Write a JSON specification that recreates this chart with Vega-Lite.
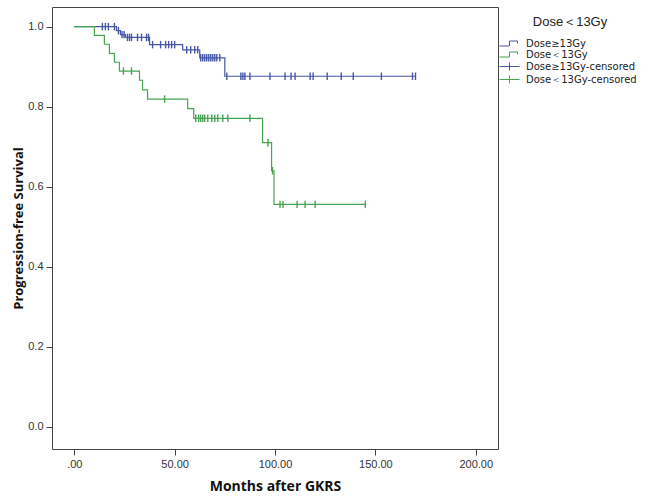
{
  "$schema": "https://vega.github.io/schema/vega-lite/v6.json",
  "autosize": {"type": "none"},
  "padding": {"left": 52, "top": 7, "right": 152, "bottom": 51},
  "width": 446,
  "height": 442,
  "background": "white",
  "datasets": {
    "steps": [
      {"series": "Dose≥13Gy", "month": 0, "surv": 1.0},
      {"series": "Dose≥13Gy", "month": 21, "surv": 0.99},
      {"series": "Dose≥13Gy", "month": 23, "surv": 0.98},
      {"series": "Dose≥13Gy", "month": 25.5, "surv": 0.973},
      {"series": "Dose≥13Gy", "month": 37.5, "surv": 0.955},
      {"series": "Dose≥13Gy", "month": 54, "surv": 0.942},
      {"series": "Dose≥13Gy", "month": 62.5, "surv": 0.922},
      {"series": "Dose≥13Gy", "month": 75, "surv": 0.876},
      {"series": "Dose≥13Gy", "month": 170, "surv": 0.876},
      {"series": "Dose＜13Gy", "month": 0, "surv": 1.0},
      {"series": "Dose＜13Gy", "month": 10, "surv": 0.978},
      {"series": "Dose＜13Gy", "month": 15, "surv": 0.956},
      {"series": "Dose＜13Gy", "month": 17.5, "surv": 0.933},
      {"series": "Dose＜13Gy", "month": 20, "surv": 0.911},
      {"series": "Dose＜13Gy", "month": 22.5, "surv": 0.889},
      {"series": "Dose＜13Gy", "month": 32.5, "surv": 0.866},
      {"series": "Dose＜13Gy", "month": 34, "surv": 0.842},
      {"series": "Dose＜13Gy", "month": 36.5, "surv": 0.819},
      {"series": "Dose＜13Gy", "month": 56.5, "surv": 0.795},
      {"series": "Dose＜13Gy", "month": 59.5, "surv": 0.771},
      {"series": "Dose＜13Gy", "month": 93.8, "surv": 0.71},
      {"series": "Dose＜13Gy", "month": 98.3, "surv": 0.64},
      {"series": "Dose＜13Gy", "month": 99.5, "surv": 0.556},
      {"series": "Dose＜13Gy", "month": 145, "surv": 0.556}
    ],
    "censor": [
      {"series": "Dose≥13Gy-censored", "month": 14, "surv": 1.0},
      {"series": "Dose≥13Gy-censored", "month": 15.5, "surv": 1.0},
      {"series": "Dose≥13Gy-censored", "month": 17, "surv": 1.0},
      {"series": "Dose≥13Gy-censored", "month": 20, "surv": 1.0},
      {"series": "Dose≥13Gy-censored", "month": 22, "surv": 0.99},
      {"series": "Dose≥13Gy-censored", "month": 23.8, "surv": 0.98},
      {"series": "Dose≥13Gy-censored", "month": 24.8, "surv": 0.98},
      {"series": "Dose≥13Gy-censored", "month": 26.5, "surv": 0.973},
      {"series": "Dose≥13Gy-censored", "month": 27.5, "surv": 0.973},
      {"series": "Dose≥13Gy-censored", "month": 28.5, "surv": 0.973},
      {"series": "Dose≥13Gy-censored", "month": 31.5, "surv": 0.973},
      {"series": "Dose≥13Gy-censored", "month": 33.5, "surv": 0.973},
      {"series": "Dose≥13Gy-censored", "month": 36, "surv": 0.973},
      {"series": "Dose≥13Gy-censored", "month": 37, "surv": 0.973},
      {"series": "Dose≥13Gy-censored", "month": 39, "surv": 0.955},
      {"series": "Dose≥13Gy-censored", "month": 43, "surv": 0.955},
      {"series": "Dose≥13Gy-censored", "month": 45.5, "surv": 0.955},
      {"series": "Dose≥13Gy-censored", "month": 47, "surv": 0.955},
      {"series": "Dose≥13Gy-censored", "month": 48.5, "surv": 0.955},
      {"series": "Dose≥13Gy-censored", "month": 50, "surv": 0.955},
      {"series": "Dose≥13Gy-censored", "month": 56, "surv": 0.942},
      {"series": "Dose≥13Gy-censored", "month": 58, "surv": 0.942},
      {"series": "Dose≥13Gy-censored", "month": 60, "surv": 0.942},
      {"series": "Dose≥13Gy-censored", "month": 61.5, "surv": 0.942},
      {"series": "Dose≥13Gy-censored", "month": 63, "surv": 0.922},
      {"series": "Dose≥13Gy-censored", "month": 64, "surv": 0.922},
      {"series": "Dose≥13Gy-censored", "month": 65, "surv": 0.922},
      {"series": "Dose≥13Gy-censored", "month": 66, "surv": 0.922},
      {"series": "Dose≥13Gy-censored", "month": 67, "surv": 0.922},
      {"series": "Dose≥13Gy-censored", "month": 68, "surv": 0.922},
      {"series": "Dose≥13Gy-censored", "month": 69, "surv": 0.922},
      {"series": "Dose≥13Gy-censored", "month": 70, "surv": 0.922},
      {"series": "Dose≥13Gy-censored", "month": 71, "surv": 0.922},
      {"series": "Dose≥13Gy-censored", "month": 72.5, "surv": 0.922},
      {"series": "Dose≥13Gy-censored", "month": 76, "surv": 0.876},
      {"series": "Dose≥13Gy-censored", "month": 83, "surv": 0.876},
      {"series": "Dose≥13Gy-censored", "month": 84, "surv": 0.876},
      {"series": "Dose≥13Gy-censored", "month": 85, "surv": 0.876},
      {"series": "Dose≥13Gy-censored", "month": 87.5, "surv": 0.876},
      {"series": "Dose≥13Gy-censored", "month": 97.5, "surv": 0.876},
      {"series": "Dose≥13Gy-censored", "month": 105, "surv": 0.876},
      {"series": "Dose≥13Gy-censored", "month": 108, "surv": 0.876},
      {"series": "Dose≥13Gy-censored", "month": 110, "surv": 0.876},
      {"series": "Dose≥13Gy-censored", "month": 117.5, "surv": 0.876},
      {"series": "Dose≥13Gy-censored", "month": 119, "surv": 0.876},
      {"series": "Dose≥13Gy-censored", "month": 126, "surv": 0.876},
      {"series": "Dose≥13Gy-censored", "month": 133, "surv": 0.876},
      {"series": "Dose≥13Gy-censored", "month": 139, "surv": 0.876},
      {"series": "Dose≥13Gy-censored", "month": 153, "surv": 0.876},
      {"series": "Dose≥13Gy-censored", "month": 168.5, "surv": 0.876},
      {"series": "Dose≥13Gy-censored", "month": 170, "surv": 0.876},
      {"series": "Dose＜13Gy-censored", "month": 24.5, "surv": 0.889},
      {"series": "Dose＜13Gy-censored", "month": 28.5, "surv": 0.889},
      {"series": "Dose＜13Gy-censored", "month": 45, "surv": 0.819},
      {"series": "Dose＜13Gy-censored", "month": 60.5, "surv": 0.771},
      {"series": "Dose＜13Gy-censored", "month": 62, "surv": 0.771},
      {"series": "Dose＜13Gy-censored", "month": 63, "surv": 0.771},
      {"series": "Dose＜13Gy-censored", "month": 64, "surv": 0.771},
      {"series": "Dose＜13Gy-censored", "month": 65, "surv": 0.771},
      {"series": "Dose＜13Gy-censored", "month": 66.5, "surv": 0.771},
      {"series": "Dose＜13Gy-censored", "month": 68.5, "surv": 0.771},
      {"series": "Dose＜13Gy-censored", "month": 70, "surv": 0.771},
      {"series": "Dose＜13Gy-censored", "month": 71.5, "surv": 0.771},
      {"series": "Dose＜13Gy-censored", "month": 74, "surv": 0.771},
      {"series": "Dose＜13Gy-censored", "month": 76.5, "surv": 0.771},
      {"series": "Dose＜13Gy-censored", "month": 87.5, "surv": 0.771},
      {"series": "Dose＜13Gy-censored", "month": 96.5, "surv": 0.71},
      {"series": "Dose＜13Gy-censored", "month": 98.8, "surv": 0.64},
      {"series": "Dose＜13Gy-censored", "month": 102.5, "surv": 0.556},
      {"series": "Dose＜13Gy-censored", "month": 104, "surv": 0.556},
      {"series": "Dose＜13Gy-censored", "month": 111, "surv": 0.556},
      {"series": "Dose＜13Gy-censored", "month": 115, "surv": 0.556},
      {"series": "Dose＜13Gy-censored", "month": 120, "surv": 0.556},
      {"series": "Dose＜13Gy-censored", "month": 145, "surv": 0.556}
    ]
  },
  "encoding": {
    "x": {
      "field": "month",
      "type": "quantitative",
      "title": "Months after GKRS",
      "scale": {"domain": [-11.1, 211.1], "nice": false, "zero": false},
      "axis": {
        "values": [0, 50, 100, 150, 200],
        "labelExpr": "datum.value == 0 ? '.00' : format(datum.value, '.2f')",
        "titlePadding": 10
      }
    },
    "y": {
      "field": "surv",
      "type": "quantitative",
      "title": "Progression-free Survival",
      "scale": {"domain": [-0.055, 1.049], "nice": false, "zero": false},
      "axis": {
        "values": [0, 0.2, 0.4, 0.6, 0.8, 1.0],
        "format": ".1f",
        "titlePadding": 2
      }
    }
  },
  "layer": [
    {
      "data": {"name": "steps"},
      "mark": {"type": "line", "interpolate": "step-after", "strokeWidth": 1.2},
      "encoding": {
        "stroke": {
          "field": "series",
          "type": "nominal",
          "scale": {"domain": ["Dose≥13Gy", "Dose＜13Gy"], "range": ["#4656a6", "#45a551"]},
          "legend": null
        }
      }
    },
    {
      "data": {"name": "censor"},
      "mark": {"type": "point", "shape": "M0,-1L0,1", "size": 56, "strokeWidth": 1.4, "filled": false, "opacity": 1},
      "encoding": {
        "stroke": {"field": "series", "type": "nominal", "legend": null,
          "scale": {"domain": ["Dose≥13Gy", "Dose＜13Gy", "Dose≥13Gy-censored", "Dose＜13Gy-censored"], "range": ["#4656a6", "#45a551", "#4656a6", "#45a551"]}
        }
      }
    },
    {
      "data": {"name": "steps"},
      "mark": {"type": "point", "filled": false, "opacity": 0, "strokeWidth": 1},
      "encoding": {
        "color": {
          "field": "series",
          "type": "nominal",
          "scale": {"domain": ["Dose≥13Gy", "Dose＜13Gy", "Dose≥13Gy-censored", "Dose＜13Gy-censored"], "range": ["#4656a6", "#45a551", "#4656a6", "#45a551"]},
          "legend": {
            "title": "Dose＜13Gy",
            "orient": "none",
            "legendX": 452,
            "legendY": 9,
            "padding": 0,
            "titleAnchor": "middle",
            "titleFont": "Liberation Sans",
            "titleFontSize": 13,
            "titleFontWeight": "normal",
            "titleColor": "#222",
            "titlePadding": 9,
            "labelFont": "DejaVu Sans",
            "labelFontSize": 10,
            "labelColor": "#222",
            "labelOffset": 11,
            "symbolSize": 100,
            "symbolStrokeWidth": 1,
            "symbolOpacity": 1,
            "rowPadding": 0
          }
        },
        "shape": {
          "field": "series",
          "type": "nominal",
          "scale": {"domain": ["Dose≥13Gy", "Dose＜13Gy", "Dose≥13Gy-censored", "Dose＜13Gy-censored"], "range": ["M-2,0.5L0,0.5L0,-0.5L1.6,-0.5L1.6,0", "M-2,0.5L0,0.5L0,-0.5L1.6,-0.5L1.6,0", "M-2,0L2,0M0,-0.8L0,0.8", "M-2,0L2,0M0,-0.8L0,0.8"]}
        }
      }
    }
  ],
  "config": {
    "view": {"stroke": "#444", "strokeWidth": 1},
    "axis": {
      "grid": false,
      "domain": false,
      "ticks": true,
      "tickSize": 6,
      "tickColor": "#444",
      "labelFont": "Liberation Sans",
      "labelFontSize": 11,
      "labelColor": "#333",
      "labelPadding": 3,
      "titleFont": "Open Sans",
      "titleFontWeight": "bold",
      "titleColor": "#111"
    },
    "axisX": {"titleFontSize": 14},
    "axisY": {"titleFontSize": 13}
  }
}
